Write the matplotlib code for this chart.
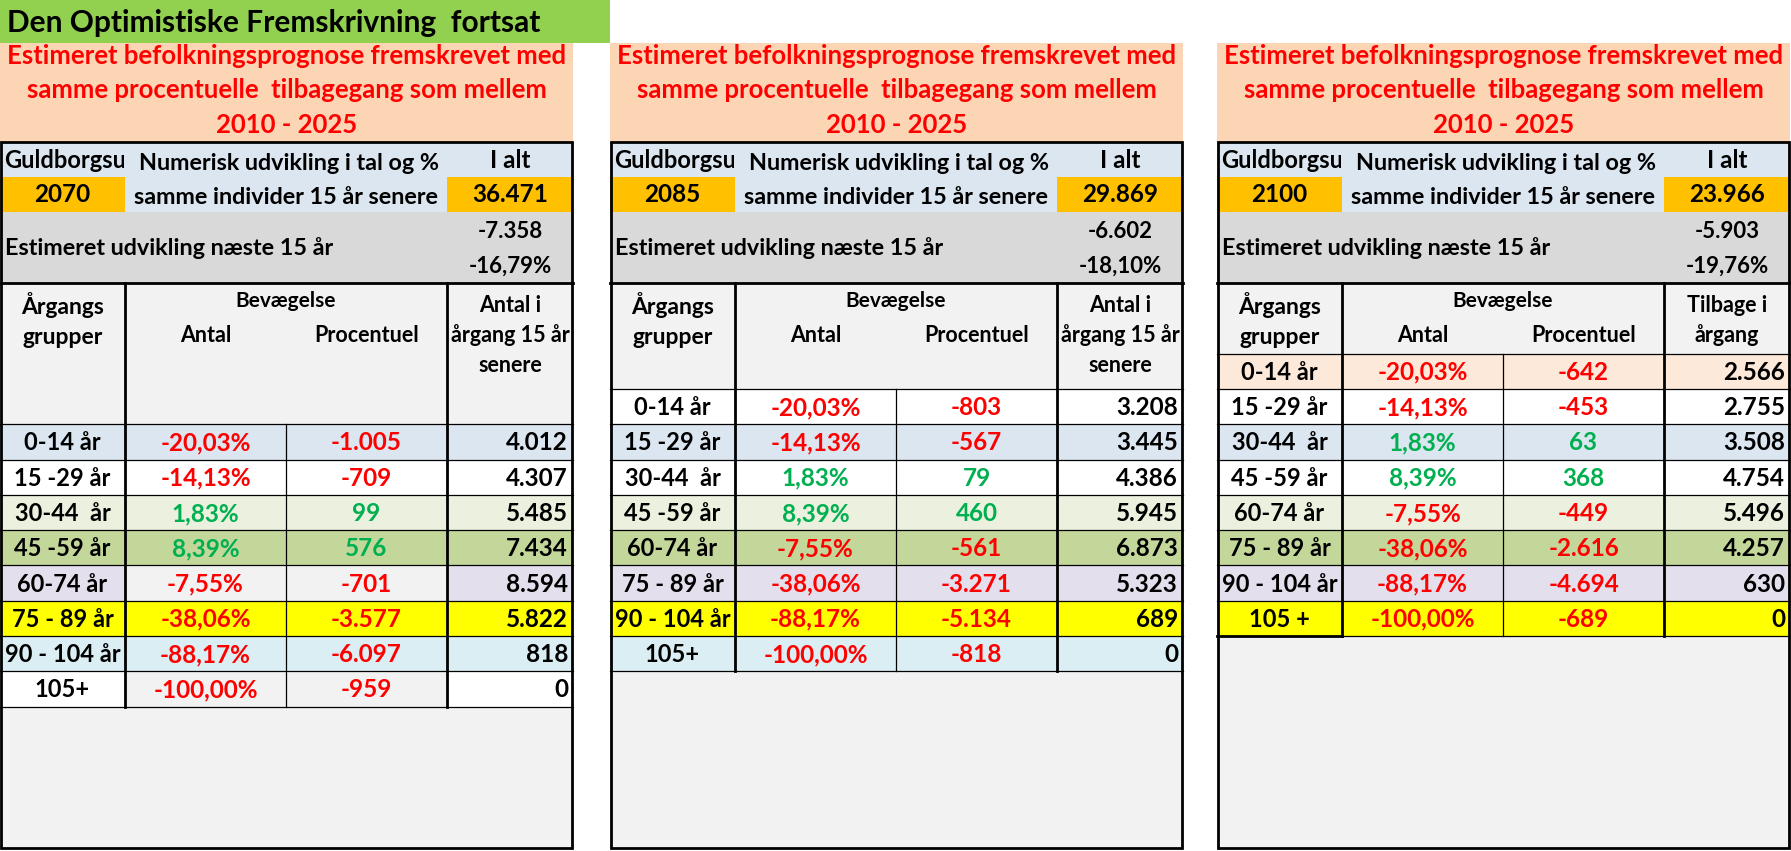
import matplotlib
matplotlib.use("Agg")
import matplotlib.pyplot as plt
from matplotlib.patches import Rectangle
from matplotlib.transforms import Bbox, TransformedBbox

plt.rcParams['font.family'] = ['Lato', 'DejaVu Sans']
plt.rcParams['font.weight'] = 'bold'

# ---- data ----
title = "Den Optimistiske Fremskrivning  fortsat"
subtitle = ["Estimeret befolkningsprognose fremskrevet med",
            "samme procentuelle  tilbagegang som mellem",
            "2010 - 2025"]
place = "Guldborgsu"   # cut off in the cell, as in the sheet
years = ["2070", "2085", "2100"]
totals = ["36.471", "29.869", "23.966"]
change_num = ["-7.358", "-6.602", "-5.903"]
change_pct = ["-16,79%", "-18,10%", "-19,76%"]

groups = [
    ["0-14 år", "15 -29 år", "30-44  år", "45 -59 år", "60-74 år", "75 - 89 år", "90 - 104 år", "105+"],
    ["0-14 år", "15 -29 år", "30-44  år", "45 -59 år", "60-74 år", "75 - 89 år", "90 - 104 år", "105+"],
    ["0-14 år", "15 -29 år", "30-44  år", "45 -59 år", "60-74 år", "75 - 89 år", "90 - 104 år", "105 +"],
]
pct = ["-20,03%", "-14,13%", "1,83%", "8,39%", "-7,55%", "-38,06%", "-88,17%", "-100,00%"]
antal = [
    ["-1.005", "-709", "99", "576", "-701", "-3.577", "-6.097", "-959"],
    ["-803", "-567", "79", "460", "-561", "-3.271", "-5.134", "-818"],
    ["-642", "-453", "63", "368", "-449", "-2.616", "-4.694", "-689"],
]
later = [
    ["4.012", "4.307", "5.485", "7.434", "8.594", "5.822", "818", "0"],
    ["3.208", "3.445", "4.386", "5.945", "6.873", "5.323", "689", "0"],
    ["2.566", "2.755", "3.508", "4.754", "5.496", "4.257", "630", "0"],
]
last_col_head = [["Antal i", "årgang 15 år", "senere"],
                 ["Antal i", "årgang 15 år", "senere"],
                 ["Tilbage i", "årgang"]]

# ---- styles ----
BLUE = "#DCE6F1"
LGREEN = "#EBF1DE"
GREEN = "#C4D79B"
LAV = "#E4DFEC"
YEL = "#FFFF00"
CYAN = "#DAEEF3"
PEACH = "#FDE9D9"
GREY = "#F2F2F2"
WHITE = "#FFFFFF"
# (col1/col4 colour, col2/col3 colour) per row
row_colors = [
    [(BLUE, BLUE), (WHITE, WHITE), (LGREEN, LGREEN), (GREEN, GREEN),
     (LAV, GREY), (YEL, YEL), (CYAN, CYAN), (WHITE, GREY)],
    [(WHITE, WHITE), (BLUE, BLUE), (WHITE, WHITE), (LGREEN, LGREEN),
     (GREEN, GREEN), (LAV, LAV), (YEL, YEL), (CYAN, CYAN)],
    [(PEACH, PEACH), (WHITE, WHITE), (BLUE, BLUE), (WHITE, WHITE),
     (LGREEN, LGREEN), (GREEN, GREEN), (LAV, LAV), (YEL, YEL)],
]
header_rows = [4, 3, 2]
panel_x = [0, 610, 1217]
col_w = [125, 161, 161, 126]
row_h = 35.3
y_top = 142
y_grey = 212
y_head = 283
y_bottom = 848
RED = "#FF0000"
POS = "#00B050"
thick = 2.0
thin = 0.9
VAL = 17.5
LAB = 17

fig = plt.figure(figsize=(17.91, 8.51), dpi=100)
ax = fig.add_axes([0, 0, 1, 1])
ax.set_xlim(0, 1791)
ax.set_ylim(851, 0)
ax.axis('off')


def box(x, y, w, h, color):
    r = Rectangle((x, y), w, h, facecolor=color, edgecolor='none')
    ax.add_patch(r)
    return r


def hline(x0, x1, y, lw):
    ax.plot([x0, x1], [y, y], color='black', lw=lw, solid_capstyle='projecting')


def vline(x, y0, y1, lw):
    ax.plot([x, x], [y0, y1], color='black', lw=lw, solid_capstyle='projecting')


# title bar
box(0, 0, 610, 43, "#92D050")
ax.text(7, 23, title, fontsize=21.5, va='center', ha='left', color='black')

for p in range(3):
    x0 = panel_x[p]
    W = sum(col_w)
    cx = [x0, x0 + col_w[0], x0 + col_w[0] + col_w[1],
          x0 + col_w[0] + col_w[1] + col_w[2], x0 + W]

    # orange header
    box(x0, 43, W, y_top - 43, "#FCD5B4")
    for i, line in enumerate(subtitle):
        ax.text(x0 + W / 2, 56 + i * 34.5, line, fontsize=18.5, color=RED,
                ha='center', va='center')

    # body background
    box(x0, y_top, W, y_bottom - y_top, GREY)

    # top block
    box(cx[0], y_top, col_w[0], 35, BLUE)
    box(cx[1], y_top, cx[3] - cx[1], 70, BLUE)
    box(cx[3], y_top, col_w[3], 35, BLUE)
    box(cx[0], y_top + 35, col_w[0], 35, "#FFC000")
    box(cx[3], y_top + 35, col_w[3], 35, "#FFC000")
    box(x0, y_grey, W, y_head - y_grey, "#D9D9D9")

    t = ax.text(x0 + 4, 160, place, fontsize=17, ha='left', va='center',
                clip_on=True)
    t.set_clip_box(TransformedBbox(Bbox([[cx[0], y_top], [cx[1] - 1, y_top + 35]]),
                                   ax.transData))
    ax.text((cx[1] + cx[3]) / 2 + 3, 163, "Numerisk udvikling i tal og %", fontsize=16.8,
            ha='center', va='center')
    ax.text((cx[1] + cx[3]) / 2, 197, "samme individer 15 år senere", fontsize=16.8,
            ha='center', va='center')
    ax.text((cx[0] + cx[1]) / 2, 195, years[p], fontsize=VAL, ha='center', va='center')
    ax.text((cx[3] + cx[4]) / 2, 161, "I alt", fontsize=VAL, ha='center', va='center')
    ax.text((cx[3] + cx[4]) / 2, 195, totals[p], fontsize=VAL, ha='center', va='center')
    ax.text(x0 + 5, 248, "Estimeret udvikling næste 15 år", fontsize=16.8,
            ha='left', va='center')
    ax.text((cx[3] + cx[4]) / 2, 231, change_num[p], fontsize=16, ha='center', va='center')
    ax.text((cx[3] + cx[4]) / 2, 266, change_pct[p], fontsize=16, ha='center', va='center')

    # column header
    y_data = y_head + header_rows[p] * row_h
    ax.text((cx[0] + cx[1]) / 2, 305, "Årgangs", fontsize=16.5, ha='center', va='center')
    ax.text((cx[0] + cx[1]) / 2, 337, "grupper", fontsize=16.5, ha='center', va='center')
    ax.text((cx[1] + cx[3]) / 2, 301, "Bevægelse", fontsize=15, ha='center', va='center')
    ax.text((cx[1] + cx[2]) / 2, 336, "Antal", fontsize=15.5, ha='center', va='center')
    ax.text((cx[2] + cx[3]) / 2, 336, "Procentuel", fontsize=15.5, ha='center', va='center')
    for i, line in enumerate(last_col_head[p]):
        ax.text((cx[3] + cx[4]) / 2, 306 + i * 29.5, line, fontsize=15.5,
                ha='center', va='center')

    # data rows
    for r in range(len(pct)):
        y = y_data + r * row_h
        ca, cb = row_colors[p][r]
        box(cx[0], y, col_w[0], row_h, ca)
        box(cx[1], y, col_w[1] + col_w[2], row_h, cb)
        box(cx[3], y, col_w[3], row_h, ca)
        ym = y + row_h / 2 + 1
        ax.text((cx[0] + cx[1]) / 2, ym, groups[p][r], fontsize=LAB, ha='center', va='center')
        col = RED if pct[r].startswith('-') else POS
        ax.text((cx[1] + cx[2]) / 2, ym, pct[r], fontsize=VAL, ha='center', va='center', color=col)
        col = RED if antal[p][r].startswith('-') else POS
        ax.text((cx[2] + cx[3]) / 2, ym, antal[p][r], fontsize=VAL, ha='center', va='center', color=col)
        ax.text(cx[4] - 5, ym, later[p][r], fontsize=VAL, ha='right', va='center')
        hline(cx[0], cx[4], y + row_h, thin)
    y_end = y_data + len(pct) * row_h

    # grid lines
    hline(cx[0], cx[4], y_data, thin)
    vline(cx[2], y_data, y_end, thin)
    vline(cx[1], y_head, y_end, thick)
    vline(cx[3], y_head, y_end, thick)
    hline(cx[0], cx[4], y_head, thick)
    if p == 2:
        hline(cx[0], cx[1], y_end, thick)
    # outline
    ax.add_patch(Rectangle((x0 + 1, y_top), W - 2, y_bottom - y_top, facecolor='none',
                           edgecolor='black', lw=thick))

fig.savefig("out.png", dpi=100, facecolor='white')
